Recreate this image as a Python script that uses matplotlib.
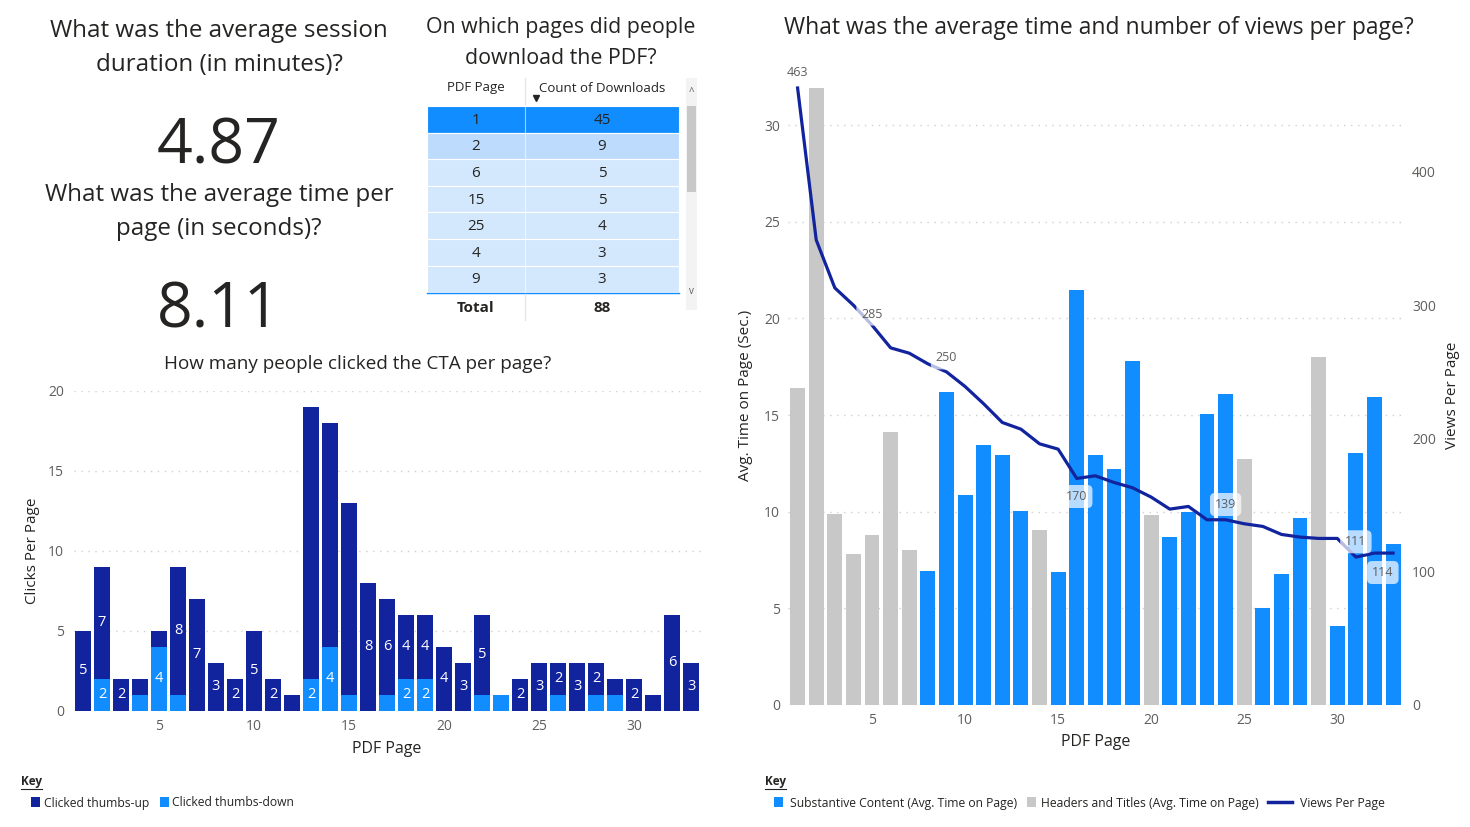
import matplotlib
matplotlib.use("Agg")
import matplotlib.pyplot as plt
from matplotlib.patches import Rectangle

import numpy as np

W, H = 1470, 827

DARK = "#12239E"
BLUE = "#118DFF"
GRAY = "#C8C8C8"
TXT = "#252423"
TICK = "#605E5C"

# cards
session_minutes = "4.87"
time_per_page = "8.11"

# downloads table
dl_pages = [1, 2, 6, 15, 25, 4, 9]
dl_counts = [45, 9, 5, 5, 4, 3, 3]
dl_total = 88

# CTA clicks per page
cta_pages = np.arange(1, 34)
thumbs_up = [5, 7, 2, 1, 1, 8, 7, 3, 2, 5, 2, 1, 17, 14, 12, 8, 6,
             4, 4, 4, 3, 5, 0, 2, 3, 2, 3, 2, 1, 2, 1, 6, 3]
thumbs_down = [0, 2, 0, 1, 4, 1, 0, 0, 0, 0, 0, 0, 2, 4, 1, 0, 1,
               2, 2, 0, 0, 1, 1, 0, 0, 1, 0, 1, 1, 0, 0, 0, 0]

# avg time and views per page
page_nums = np.arange(1, 34)
avg_time = [16.4, 31.9, 9.9, 7.8, 8.8, 14.1, 8.0, 6.95, 16.2, 10.85, 13.45,
            12.95, 10.05, 9.05, 6.9, 21.45, 12.95, 12.2, 17.8, 9.85, 8.7,
            10.0, 15.05, 16.1, 12.75, 5.0, 6.8, 9.65, 18.0, 4.1, 13.05,
            15.95, 8.35]
header_pages = [1, 2, 3, 4, 5, 6, 7, 14, 20, 25, 29]
views = [463, 349, 313, 300, 285, 268, 264, 256, 250, 239, 226, 212, 207,
         196, 192, 170, 172, 167, 163, 156, 147, 149, 139, 139, 136, 134,
         128, 126, 125, 125, 111, 114, 114]
view_label_pages = [1, 5, 9, 16, 24, 31, 32]


def px_rect(x0, y0, x1, y1):
    return [x0 / W, 1 - y1 / H, (x1 - x0) / W, (y1 - y0) / H]


def style_axis(ax):
    for s in ax.spines.values():
        s.set_visible(False)
    ax.tick_params(length=0, labelsize=10, colors=TICK)
    ax.grid(axis="y", color="#D0D0D0", linestyle=(0, (1, 4)), linewidth=1)
    ax.set_axisbelow(True)


def main():
    plt.rcParams["font.family"] = ["Open Sans", "DejaVu Sans"]
    fig = plt.figure(figsize=(W / 100, H / 100), dpi=100)

    # pixel layer for cards, table and keys
    bg = fig.add_axes([0, 0, 1, 1])
    bg.set_xlim(0, W)
    bg.set_ylim(H, 0)
    bg.axis("off")

    # cards
    bg.text(219, 31, "What was the average session", ha="center", va="center", fontsize=17.4, color=TXT)
    bg.text(219, 65, "duration (in minutes)?", ha="center", va="center", fontsize=17.4, color=TXT)
    bg.text(219, 163, session_minutes, ha="center", va="baseline", fontsize=45, color=TXT)
    bg.text(219, 195, "What was the average time per", ha="center", va="center", fontsize=17.4, color=TXT)
    bg.text(219, 229, "page (in seconds)?", ha="center", va="center", fontsize=17.4, color=TXT)
    bg.text(219, 327, time_per_page, ha="center", va="baseline", fontsize=45, color=TXT)

    # table
    bg.text(561, 28, "On which pages did people", ha="center", va="center", fontsize=15.4, color=TXT)
    bg.text(561, 59, "download the PDF?", ha="center", va="center", fontsize=15.4, color=TXT)
    bg.text(476, 88, "PDF Page", ha="center", va="center", fontsize=9.5, color=TXT)
    bg.text(602, 88, "Count of Downloads", ha="center", va="center", fontsize=9.5, color=TXT)
    bg.plot(536, 98, marker="v", ms=5, color=TXT)
    bg.plot([525, 525], [78, 104], color="#E6E6E6", lw=1)
    row_h = 26.6
    top = 106
    for i, (p, c) in enumerate(zip(dl_pages, dl_counts)):
        y0 = top + i * row_h
        if i == 0:
            fc = BLUE
        elif i == 1:
            fc = "#BDDCFD"
        else:
            fc = "#D3E8FD"
        bg.add_patch(Rectangle((427, y0), 252, row_h, facecolor=fc, edgecolor="white", lw=0.8))
        bg.plot([525, 525], [y0, y0 + row_h], color="white", alpha=0.6, lw=0.8)
        bg.text(476, y0 + row_h / 2 + 1, str(p), ha="center", va="center", fontsize=11, color=TXT)
        bg.text(602, y0 + row_h / 2 + 1, str(c), ha="center", va="center", fontsize=11, color=TXT)
    bg.plot([427, 679], [293, 293], color=BLUE, lw=1)
    bg.plot([525, 525], [294, 320], color="#E6E6E6", lw=1)
    bg.text(476, 308, "Total", ha="center", va="center", fontsize=11, fontweight="bold", color=TXT)
    bg.text(602, 308, str(dl_total), ha="center", va="center", fontsize=11, fontweight="bold", color=TXT)
    # scrollbar
    bg.add_patch(Rectangle((686, 78), 11, 232, facecolor="#F3F3F3", edgecolor="none"))
    bg.add_patch(Rectangle((687, 106), 9, 86, facecolor="#C8C8C8", edgecolor="none"))
    bg.text(691.5, 92, "^", ha="center", va="center", fontsize=7, color=TICK)
    bg.text(691.5, 292, "v", ha="center", va="center", fontsize=7, color=TICK)

    # CTA clicks chart
    ax1 = fig.add_axes(px_rect(73.5, 391, 700.5, 711))
    ax1.bar(cta_pages, thumbs_down, width=0.8, color=BLUE)
    ax1.bar(cta_pages, thumbs_up, bottom=thumbs_down, width=0.8, color=DARK)
    for x, d, u in zip(cta_pages, thumbs_down, thumbs_up):
        if 2 <= d < 10:
            ax1.text(x, d / 2, str(d), ha="center", va="center", color="white", fontsize=10.5)
        if 2 <= u < 10:
            ax1.text(x, d + u / 2, str(u), ha="center", va="center", color="white", fontsize=10.5)
    ax1.set_xlim(0.5, 33.5)
    ax1.set_ylim(0, 20)
    ax1.set_xticks([5, 10, 15, 20, 25, 30])
    ax1.set_yticks([0, 5, 10, 15, 20])
    style_axis(ax1)
    ax1.tick_params(axis="y", pad=7)
    ax1.tick_params(axis="x", pad=6)
    ax1.set_xlabel("PDF Page", fontsize=11.5, color=TXT)
    ax1.set_ylabel("Clicks Per Page", fontsize=11, color=TXT)
    ax1.xaxis.set_label_coords(0.5, -0.095)
    ax1.yaxis.set_label_coords(-0.053, 0.5)
    bg.text(358, 364, "How many people clicked the CTA per page?", ha="center", va="center", fontsize=13.6, color=TXT)

    # avg time / views chart
    ax2 = fig.add_axes(px_rect(788.3, 86.4, 1402.4, 705))
    colors = [GRAY if p in header_pages else BLUE for p in page_nums]
    ax2.bar(page_nums, avg_time, width=0.8, color=colors)
    ax2.set_xlim(0.5, 33.5)
    ax2.set_ylim(0, 32)
    ax2.set_xticks([5, 10, 15, 20, 25, 30])
    ax2.set_yticks([0, 5, 10, 15, 20, 25, 30])
    style_axis(ax2)
    ax2.tick_params(axis="y", pad=6)
    ax2.tick_params(axis="x", pad=6)
    ax2.set_xlabel("PDF Page", fontsize=11.5, color=TXT)
    ax2.set_ylabel("Avg. Time on Page (Sec.)", fontsize=11, color=TXT)
    ax2.xaxis.set_label_coords(0.501, -0.047)
    ax2.yaxis.set_label_coords(-0.058, 0.5)

    ax3 = ax2.twinx()
    ax3.plot(page_nums, views, color=DARK, lw=2.3)
    ax3.set_ylim(0, 464.2)
    ax3.set_yticks([0, 100, 200, 300, 400])
    for s in ax3.spines.values():
        s.set_visible(False)
    ax3.tick_params(length=0, labelsize=10, colors=TICK, pad=7)
    ax3.set_ylabel("Views Per Page", fontsize=11, color=TXT, rotation=90)
    ax3.yaxis.set_label_coords(1.07, 0.5)
    offsets = {1: (0, 11), 5: (0, 8), 9: (0, 10), 16: (0, -13),
               24: (0, 11), 31: (0, 11), 32: (6, -14)}
    for p in view_label_pages:
        v = views[p - 1]
        ax3.annotate(str(v), (p, v), xytext=offsets[p], textcoords="offset points",
                     ha="center", va="center", fontsize=9, color=TICK,
                     bbox=dict(boxstyle="round,pad=0.4", fc="white", ec="none", alpha=0.7))
    bg.text(1099, 28, "What was the average time and number of views per page?",
            ha="center", va="center", fontsize=16.5, color=TXT)

    # keys
    for kx in (21, 765):
        bg.text(kx, 782, "Key", ha="left", va="center", fontsize=8.5, fontweight="bold", color=TXT)
        bg.plot([kx, kx + 21], [789, 789], color=TXT, lw=0.8)
    bg.add_patch(Rectangle((31, 797), 9, 10, facecolor=DARK))
    bg.text(44, 803, "Clicked thumbs-up", ha="left", va="center", fontsize=8.7, color=TXT)
    bg.add_patch(Rectangle((160, 797), 9, 10, facecolor=BLUE))
    bg.text(172, 803, "Clicked thumbs-down", ha="left", va="center", fontsize=8.7, color=TXT)
    bg.add_patch(Rectangle((774, 797), 9, 10, facecolor=BLUE))
    bg.text(790, 803, "Substantive Content (Avg. Time on Page)", ha="left", va="center", fontsize=8.7, color=TXT)
    bg.add_patch(Rectangle((1027, 797), 9, 10, facecolor=GRAY))
    bg.text(1041, 803, "Headers and Titles (Avg. Time on Page)", ha="left", va="center", fontsize=8.7, color=TXT)
    bg.plot([1268, 1292], [802, 802], color=DARK, lw=2.5)
    bg.text(1300, 803, "Views Per Page", ha="left", va="center", fontsize=8.7, color=TXT)

    fig.savefig("out.png", dpi=100)


if __name__ == "__main__":
    main()
